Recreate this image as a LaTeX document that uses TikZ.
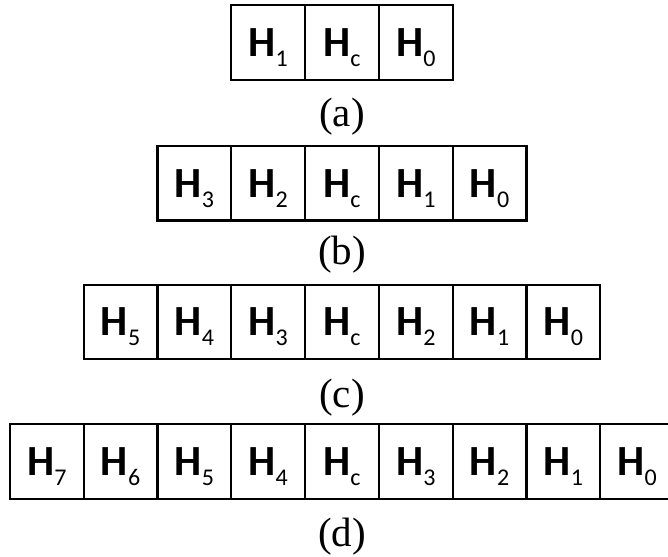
\documentclass[tikz,border=0pt]{standalone}
\usepackage{fontspec}
\setmainfont{Liberation Serif}
\newfontfamily\calfont{Carlito}
\usetikzlibrary{positioning}

% bold H with a plain subscript, subscript kept out of the height
\newcommand{\hsub}[1]{{\calfont\bfseries H}\smash{\raisebox{-10pt}{\calfont\fontsize{24}{24}\selectfont #1}}}

\begin{document}
\begin{tikzpicture}[x=1pt, y=-1pt,
    cell/.style={draw, line width=2.3pt, minimum width=73.8pt, minimum height=74.5pt, inner sep=0pt, outer sep=0pt, font=\fontsize{43}{43}\selectfont},
    lbl/.style={inner sep=0pt, font=\fontsize{41}{41}\selectfont}
]
\useasboundingbox (0,0) rectangle (668,556);

% row (a)
\node[cell] (a1) at (268.2,42.5) {\hsub{1}};
\node[cell, right=0pt of a1] (a2) {\hsub{c}};
\node[cell, right=0pt of a2] (a3) {\hsub{0}};
\node[lbl] (la) at (342,117) {(a)};

% row (b)
\node[cell] (b1) at (194.4,183.3) {\hsub{3}};
\node[cell, right=0pt of b1] (b2) {\hsub{2}};
\node[cell, right=0pt of b2] (b3) {\hsub{c}};
\node[cell, right=0pt of b3] (b4) {\hsub{1}};
\node[cell, right=0pt of b4] (b5) {\hsub{0}};
\node[lbl] (lb) at (342,255) {(b)};

% row (c)
\node[cell] (c1) at (120.6,322) {\hsub{5}};
\node[cell, right=0pt of c1] (c2) {\hsub{4}};
\node[cell, right=0pt of c2] (c3) {\hsub{3}};
\node[cell, right=0pt of c3] (c4) {\hsub{c}};
\node[cell, right=0pt of c4] (c5) {\hsub{2}};
\node[cell, right=0pt of c5] (c6) {\hsub{1}};
\node[cell, right=0pt of c6] (c7) {\hsub{0}};
\node[lbl] (lc) at (342,397.5) {(c)};

% row (d)
\node[cell] (d1) at (46.8,461.5) {\hsub{7}};
\node[cell, right=0pt of d1] (d2) {\hsub{6}};
\node[cell, right=0pt of d2] (d3) {\hsub{5}};
\node[cell, right=0pt of d3] (d4) {\hsub{4}};
\node[cell, right=0pt of d4] (d5) {\hsub{c}};
\node[cell, right=0pt of d5] (d6) {\hsub{3}};
\node[cell, right=0pt of d6] (d7) {\hsub{2}};
\node[cell, right=0pt of d7] (d8) {\hsub{1}};
\node[cell, right=0pt of d8] (d9) {\hsub{0}};
\node[lbl] (ld) at (342,536.5) {(d)};
\end{tikzpicture}
\end{document}
